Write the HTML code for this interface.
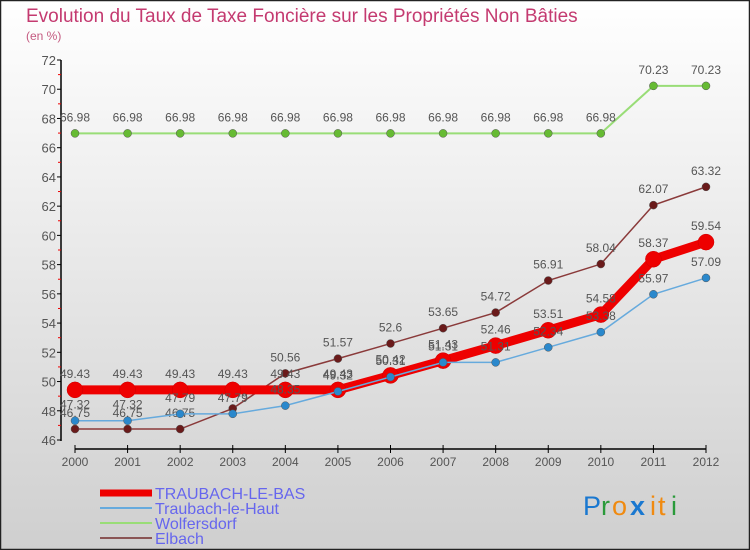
<!DOCTYPE html>
<html><head><meta charset="utf-8"><style>
body{margin:0;width:750px;height:550px;overflow:hidden;font-family:"Liberation Sans",sans-serif}
svg{display:block}
</style></head><body>
<svg id="chart" width="750" height="550" xmlns="http://www.w3.org/2000/svg">
<defs><linearGradient id="bg" x1="0" y1="0" x2="0" y2="1"><stop offset="0" stop-color="#ffffff"/><stop offset="1" stop-color="#cfcfcf"/></linearGradient></defs>
<rect x="0.5" y="0.5" width="749" height="549" fill="url(#bg)" stroke="#222" stroke-width="1.5"/>
<text x="26" y="22" font-size="19" fill="#c43a70">Evolution du Taux de Taxe Foncière sur les Propriétés Non Bâties</text>
<text x="26" y="40" font-size="12" fill="#c45a80">(en %)</text>
<g id="axes"></g><g id="series"></g><g id="legend"></g>
<g font-size="27">
<text x="583" y="515" fill="#1a78d0">P</text><text x="601" y="515" fill="#2a9a3a">r</text><text x="612" y="515" fill="#f08a10">o</text><text x="630" y="515" fill="#1a78d0" font-weight="bold">x</text><text x="650" y="515" fill="#f08a10">i</text><text x="658" y="515" fill="#f08a10">t</text><text x="671" y="515" fill="#2a9a3a">i</text>
</g>
</svg>
<script>
const years=[2000,2001,2002,2003,2004,2005,2006,2007,2008,2009,2010,2011,2012];
const yTicks=[46,48,50,52,54,56,58,60,62,64,66,68,70,72];
const traubachBas=[49.43,49.43,49.43,49.43,49.43,49.43,50.42,51.43,52.46,53.51,54.58,58.37,59.54];
const traubachHaut=[47.32,47.32,47.79,47.79,48.35,49.32,50.31,51.31,51.31,52.34,53.38,55.97,57.09];
const wolfersdorf=[66.98,66.98,66.98,66.98,66.98,66.98,66.98,66.98,66.98,66.98,66.98,70.23,70.23];
const elbach=[46.75,46.75,46.75,48.16,50.56,51.57,52.6,53.65,54.72,56.91,58.04,62.07,63.32];
const names=["TRAUBACH-LE-BAS","Traubach-le-Haut","Wolfersdorf","Elbach"];
const NS="http://www.w3.org/2000/svg";
const X=i=>75+i*(706-75)/(years.length-1);
const Y=v=>440-(v-46)*(380/26);
function mk(tag,attrs,parent){const e=document.createElementNS(NS,tag);for(const k in attrs)e.setAttribute(k,attrs[k]);parent.appendChild(e);return e;}
const ax=document.getElementById('axes');
let a=mk('line',{x1:61,y1:60,x2:61,y2:441,stroke:'#000','stroke-width':1.5},ax);


yTicks.forEach(t=>{
 mk('line',{x1:57,y1:Y(t),x2:61,y2:Y(t),stroke:'#000'},ax);
 if(t<72) mk('line',{x1:58,y1:Y(t+1),x2:61,y2:Y(t+1),stroke:'#e00'},ax);
 const tx=mk('text',{x:56,y:Y(t)+5,'text-anchor':'end','font-size':13,fill:'#555'},ax);
 tx.textContent=t;
 
 
});
a=mk('line',{x1:75,y1:449,x2:706,y2:449,stroke:'#000','stroke-width':1.5},ax);


years.forEach((y,i)=>{
 mk('line',{x1:X(i),y1:445,x2:X(i),y2:453,stroke:'#000'},ax);
 const tx=mk('text',{x:X(i),y:466,'text-anchor':'middle','font-size':12,fill:'#555'},ax);
 tx.textContent=y;
 
 
});
const sg=document.getElementById('series');
const specs=[[wolfersdorf,'#99dd77','#66bb33',2,4,'wolfersdorf'],[elbach,'#8a3a3a','#6a1a1a',1.5,4,'elbach'],[traubachBas,'#ee0000','#ee0000',9,8,'traubach-le-bas'],[traubachHaut,'#66aadd','#2a88cc',1.5,4,'traubach-le-haut']];
specs.forEach(([d,lc,pc,w,r,n])=>{
 const g=mk('g',{},sg);
 
 
 const p=mk('polyline',{points:d.map((v,i)=>X(i)+','+Y(v)).join(' '),fill:'none',stroke:lc,'stroke-width':w},g);
 
 
 d.forEach((v,i)=>{
  const c=mk('circle',{cx:X(i),cy:Y(v),r:r,fill:pc,stroke:n==='traubach-le-bas'?'#cc0000':'#555','stroke-width':0.5},g);
  
  
  const t=mk('text',{x:X(i),y:Y(v)-12,'text-anchor':'middle','font-size':12,fill:'#555'},g);
  t.textContent=v;
  
  
 });
});
const lg=document.getElementById('legend');
const lcols=['#ee0000','#66aadd','#99dd77','#8a5555'];const lw=[7,2,2,2];
names.forEach((n,i)=>{
 const y=493+i*15;
 const l=mk('line',{x1:100,y1:y,x2:152,y2:y,stroke:lcols[i],'stroke-width':lw[i]},lg);
 
 
 const t=mk('text',{x:155,y:y+6,'font-size':16,fill:'#6666ee'},lg);
 t.textContent=n;
 
 
});
</script>
</body></html>
